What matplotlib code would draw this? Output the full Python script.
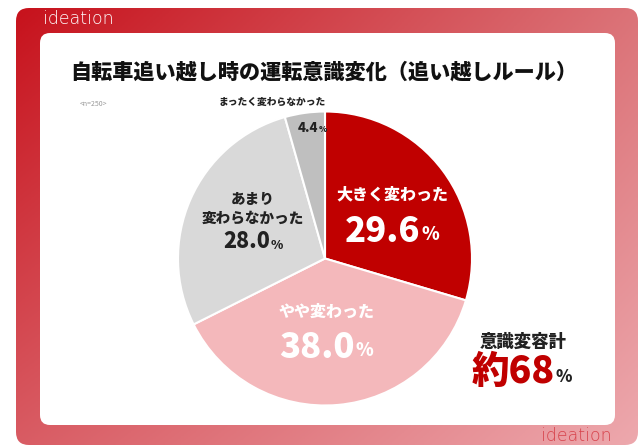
import numpy as np
import matplotlib
matplotlib.use("Agg")
import matplotlib.pyplot as plt
from matplotlib.patches import FancyBboxPatch

plt.rcParams['font.family'] = ['Noto Sans CJK JP', 'DejaVu Sans']

# data
categories = ["大きく変わった", "やや変わった", "あまり\n変わらなかった", "まったく変わらなかった"]
values = [29.6, 38.0, 28.0, 4.4]
colors = ["#C00000", "#F4B8BB", "#D9D9D9", "#BFBFBF"]
title = "自転車追い越し時の運転意識変化（追い越しルール）"
sample_note = "<n=250>"
total_label = "意識変容計"
total_value = "約68"

W, H = 643, 448
fig = plt.figure(figsize=(W / 100, H / 100), dpi=100)

# background frame (pixel coords)
bg = fig.add_axes([0, 0, 1, 1], zorder=0)
bg.set_xlim(0, W)
bg.set_ylim(H, 0)
bg.axis("off")

# gradient red frame
x0, y0, x1, y1 = 16, 8, 638, 445
tl = np.array([0.78, 0.07, 0.11])
tr = np.array([0.86, 0.45, 0.47])
bl = np.array([0.85, 0.36, 0.39])
br = np.array([0.93, 0.66, 0.68])
u = np.linspace(0, 1, 200)[None, :, None]
v = np.linspace(0, 1, 150)[:, None, None]
grad = (tl * (1 - u) * (1 - v) + tr * u * (1 - v) + bl * (1 - u) * v + br * u * v)
outer = FancyBboxPatch((x0, y0), x1 - x0, y1 - y0,
                       boxstyle="round,pad=0,rounding_size=13",
                       fc="none", ec="none")
bg.add_patch(outer)
im = bg.imshow(grad, extent=(x0, x1, y1, y0), aspect="auto", zorder=1)
im.set_clip_path(outer)
inner = FancyBboxPatch((40, 33), 575, 392,
                       boxstyle="round,pad=0,rounding_size=10",
                       fc="white", ec="none", zorder=2)
bg.add_patch(inner)
bg.text(43, 19, "ideation", color="white", fontsize=12.5,
        family="DejaVu Sans", fontweight="light", va="center", ha="left", zorder=3)
bg.text(612, 436, "ideation", color="#D7424B", fontsize=12.5,
        family="DejaVu Sans", fontweight="light", va="center", ha="right", zorder=3)

# pie
cx, cy, r = 325, 258.5, 147
pie_ax = fig.add_axes([(cx - r) / W, (H - cy - r) / H, 2 * r / W, 2 * r / H], zorder=1)
pie_ax.pie(values, colors=colors, startangle=90, counterclock=False,
           wedgeprops=dict(edgecolor="white", linewidth=1.5))
pie_ax.set_xlim(-1, 1)
pie_ax.set_ylim(-1, 1)
pie_ax.axis("off")

# text overlay
tx = fig.add_axes([0, 0, 1, 1], zorder=2)
tx.set_xlim(0, W)
tx.set_ylim(H, 0)
tx.axis("off")
tx.patch.set_alpha(0)

wt = "heavy"
tx.text(324, 72, title, fontsize=15.2, fontweight=wt, ha="center", va="center", color="#111111")
tx.text(80, 104, sample_note, fontsize=5, ha="left", va="center", color="#999999")

dark = "#222222"
# 大きく変わった
tx.text(392, 195, categories[0], fontsize=11.5, fontweight=wt, color="white", ha="center", va="center")
tx.text(420, 231, f"{values[0]:.1f}", fontsize=25, fontweight=wt, color="white", ha="right", va="center")
tx.text(421, 235, "%", fontsize=13, fontweight=wt, color="white", ha="left", va="center")
# やや変わった
tx.text(327, 312, categories[1], fontsize=11.5, fontweight=wt, color="white", ha="center", va="center")
tx.text(355, 347, f"{values[1]:.1f}", fontsize=25, fontweight=wt, color="white", ha="right", va="center")
tx.text(356, 351, "%", fontsize=13, fontweight=wt, color="white", ha="left", va="center")
# あまり変わらなかった
tx.text(253, 209, categories[2], fontsize=10.5, fontweight=wt, color=dark, ha="center", va="center",
        linespacing=1.35)
tx.text(270, 242, f"{values[2]:.1f}", fontsize=15.5, fontweight=wt, color=dark, ha="right", va="center")
tx.text(271, 245, "%", fontsize=9, fontweight=wt, color=dark, ha="left", va="center")
# まったく変わらなかった
tx.text(272, 102, categories[3], fontsize=7, fontweight=wt, color=dark, ha="center", va="center")
tx.text(318, 128, f"{values[3]:.1f}", fontsize=9.5, fontweight=wt, color=dark, ha="right", va="center")
tx.text(318.5, 129.5, "%", fontsize=6, fontweight=wt, color=dark, ha="left", va="center")
# total
tx.text(523, 342, total_label, fontsize=12.5, fontweight=wt, color=dark, ha="center", va="center")
tx.text(555, 372, total_value, fontsize=27, fontweight=wt, color="#C00000", ha="right", va="center")
tx.text(556, 377, "%", fontsize=12, fontweight=wt, color=dark, ha="left", va="center")

fig.savefig("out.png", dpi=100)
